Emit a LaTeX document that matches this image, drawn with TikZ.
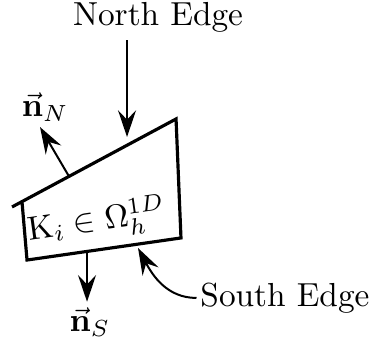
\documentclass[tikz,border=0pt]{standalone}
\usepackage{amsmath}
\usepackage{tikz}
\usetikzlibrary{arrows.meta,positioning,calc}
\tikzset{
  >={Stealth[length=8pt,width=5.4pt,inset=2.8pt]},
  cell/.style={draw=black,line width=0.95pt,line join=miter},
  normal/.style={->,semithick},
  tag/.style={inner sep=1pt,font=\normalsize},
}

\begin{document}
\begin{tikzpicture}
  \useasboundingbox (0,0) rectangle (3.945,3.713);
  % corners of the cell
  \coordinate (nw) at (0.127,1.530);
  \coordinate (ne) at (1.857,2.458);
  \coordinate (se) at (1.909,1.203);
  \coordinate (sw) at (0.285,0.970);
  \coordinate (tl) at (0.232,1.586);
  \draw[cell] (nw) -- (ne) -- (se) -- (sw) -- (tl);
  \node[tag,rotate=8,inner sep=0pt] (cellname) at (1.020,1.378) {$\mathrm{K}_i \in \Omega_h^{1D}$};

  % normals
  \coordinate (nbase) at (0.728,1.852);
  \coordinate (nend) at (0.422,2.373);
  \coordinate (sbase) at (0.918,1.061);
  \coordinate (send) at (0.918,0.530);
  \node[tag] (nN) at (0.475,2.584) {$\vec{\mathbf{n}}_N$};
  \node[tag] (nS) at (0.949,0.316) {$\vec{\mathbf{n}}_S$};
  \draw[normal] (nbase) -- (nend);
  \draw[normal] (sbase) -- (send);

  % edge labels
  \node[tag] (north) at (1.667,3.534) {North Edge};
  \node[tag] (south) at (3.006,0.570) {South Edge};
  \coordinate (nstart) at (1.340,3.291);
  \coordinate (ntip) at (1.340,2.268);
  \coordinate (stip) at (1.456,1.097);
  \draw[normal] (nstart) -- (ntip);
  \draw[normal] (south.west) to[out=180,in=-62] (stip);
\end{tikzpicture}
\end{document}
